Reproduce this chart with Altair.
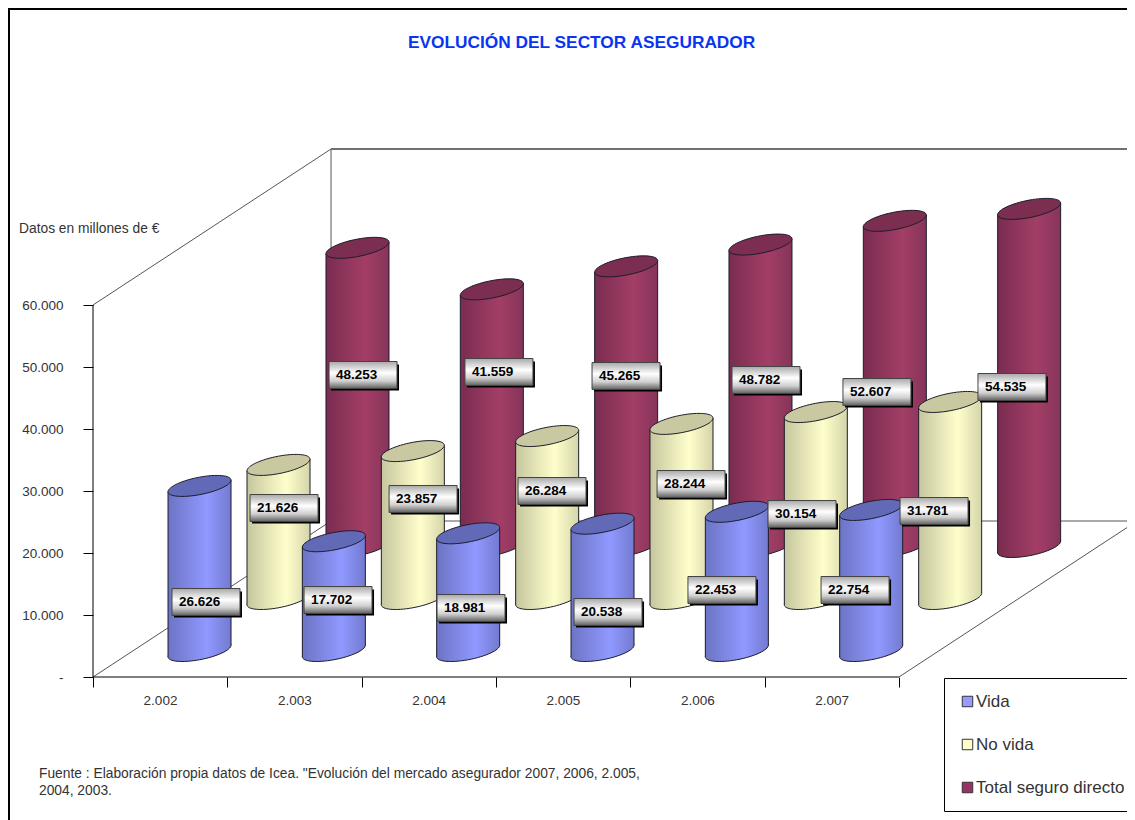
import altair as alt
import pandas as pd

years = ["2.002", "2.003", "2.004", "2.005", "2.006", "2.007"]
series = ["Vida", "No vida", "Total seguro directo"]
vida = [26626, 17702, 18981, 20538, 22453, 22754]
no_vida = [21626, 23857, 26284, 28244, 30154, 31781]
total = [48253, 41559, 45265, 48782, 52607, 54535]

# where each data label sits, in chart units (category position, value)
vida_lab_x = [0.588, 1.571, 2.561, 3.581, 4.429, 5.420]
vida_lab_y = [12097, 12419, 11129, 10484, 14032, 14032]
novida_lab_x = [1.169, 2.204, 3.164, 4.199, 5.025, 6.008]
novida_lab_y = [27258, 28710, 30000, 31129, 26290, 26774]
total_lab_x = [1.757, 2.769, 3.715, 4.757, 5.583, 6.588]
total_lab_y = [48710, 49194, 48548, 47903, 45968, 46774]

LEFT, TOP = 93, 8        # page position of the value axis and of the plot's top
W, H = 1127 - LEFT, 677 - TOP
PAD_B = 820 - 677
PX_U = 134.33
PX_V = 0.0062
xs = alt.Scale(domain=[0, W / PX_U], nice=False, zero=False)
ys = alt.Scale(domain=[0, H / PX_V], nice=False, zero=False)
DEPTH_U = 0.588
DEPTH_V = 8387
FIRST_U = 0.793
FRONT_V = 4194
RAD_U = 0.2345
TILT = 0.184
FLAT = 0.278
RAD_PX = 31.5
SIZE = (2 * RAD_PX) ** 2
TILT_V = TILT * RAD_PX / PX_V

y_axis = alt.Axis(
    values=list(range(0, 60001, 10000)), title=None, grid=False, domain=False,
    tickSize=10, tickColor="#000000", tickWidth=1, labelPadding=20, labelFontSize=13.5,
    labelFont="Liberation Sans", labelColor="#333333",
    labelExpr="datum.value === 0 ? '-\u00a0\u00a0\u00a0' : replace(format(datum.value, ','), ',', '.')",
)
year_list = ",".join(f"'{y}'" for y in years)
x_axis = alt.Axis(
    values=list(range(0, 7)), title=None, grid=False, domain=False,
    tickSize=10, tickColor="#000000", tickWidth=1, labelPadding=6, labelFontSize=13.5,
    labelFont="Liberation Sans", labelColor="#333333", labelOffset=67, labelBound=False,
    labelFlush=False, labelOverlap=False, labelAngle=0,
    labelExpr=f"[{year_list}][datum.value] || ''",
)


def X(f="x", **k):
    return alt.X(f"{f}:Q", scale=xs, axis=x_axis, **k)


def Y(f="y", **k):
    return alt.Y(f"{f}:Q", scale=ys, axis=y_axis, **k)


K = 0.5523
ctrl = [(1, 0), (1, K), (K, 1), (0, 1), (-K, 1), (-1, K), (-1, 0), (-1, -K), (-K, -1), (0, -1), (K, -1), (1, -K), (1, 0)]
pts = [(u, -TILT * u + FLAT * v) for u, v in ctrl]
ELLIPSE = f"M{pts[0][0]:.4f},{pts[0][1]:.4f} " + " ".join(
    f"C{pts[i][0]:.4f},{pts[i][1]:.4f} {pts[i+1][0]:.4f},{pts[i+1][1]:.4f} {pts[i+2][0]:.4f},{pts[i+2][1]:.4f}"
    for i in range(1, 12, 3)
) + " Z"


def hgrad(c0, c1, c2):
    return {
        "gradient": "linear", "x1": 0, "x2": 1, "y1": 0, "y2": 0,
        "stops": [{"offset": 0, "color": c0}, {"offset": 0.62, "color": c1}, {"offset": 1, "color": c2}],
    }


LAB_GRAD = {
    "gradient": "linear", "x1": 0, "x2": 0, "y1": 0, "y2": 1,
    "stops": [{"offset": 0, "color": "#a8a8a8"}, {"offset": 0.42, "color": "#ffffff"},
              {"offset": 0.72, "color": "#d0d0d0"}, {"offset": 1, "color": "#606060"}],
}
EDGE = "#1c1c2a"


def cylinder_layers(values, depth, grad, top):
    rows, area = [], []
    for i, v in enumerate(values):
        cx = i + FIRST_U + depth * DEPTH_U
        base = FRONT_V + depth * DEPTH_V
        rows.append(dict(cx=cx, base=base, top=base + v, left=cx - RAD_U, right=cx + RAD_U,
                         lb=base - TILT_V, lt=base + v - TILT_V,
                         rb=base + TILT_V, rt=base + v + TILT_V))
        area.append(dict(id=i, x=cx - RAD_U, y=base + v - TILT_V, y2=base - TILT_V))
        area.append(dict(id=i, x=cx + RAD_U, y=base + v + TILT_V, y2=base + TILT_V))
    df = pd.DataFrame(rows)
    ad = pd.DataFrame(area)
    bottom = alt.Chart(df).mark_point(shape=ELLIPSE, size=SIZE, filled=True, fill=grad, stroke=EDGE,
                                      strokeWidth=1, opacity=1).encode(x=X("cx"), y=Y("base"))
    body = alt.Chart(ad).mark_area(fill=grad, orient="vertical", opacity=1).encode(
        x=X("x"), y=Y("y", stack=None), y2="y2:Q", detail="id:N")
    lside = alt.Chart(df).mark_rule(color=EDGE, strokeWidth=1).encode(x=X("left"), y=Y("lt"), y2="lb:Q")
    rside = alt.Chart(df).mark_rule(color=EDGE, strokeWidth=1).encode(x=X("right"), y=Y("rt"), y2="rb:Q")
    cap = alt.Chart(df).mark_point(shape=ELLIPSE, size=SIZE, filled=True, fill=top, stroke=EDGE,
                                   strokeWidth=1, opacity=1).encode(x=X("cx"), y=Y("top"))
    return [bottom, body, lside, rside, cap]


def label_layers():
    rows = []
    for vals, lx, ly in [(total, total_lab_x, total_lab_y), (no_vida, novida_lab_x, novida_lab_y),
                         (vida, vida_lab_x, vida_lab_y)]:
        for v, x, y in zip(vals, lx, ly):
            rows.append(dict(
                x=x, x2=x + 68 / PX_U, y=y + 13.5 / PX_V, y2=y - 13.5 / PX_V, cy=y,
                sx=x + 2 / PX_U, sx2=x + 70 / PX_U, sy=y + 10.5 / PX_V, sy2=y - 15.5 / PX_V,
                t=f"{v:,}".replace(",", "."),
            ))
    df = pd.DataFrame(rows)
    shadow = alt.Chart(df).mark_rect(color="#000000").encode(x=X("sx"), x2="sx2:Q", y=Y("sy"), y2="sy2:Q")
    box = alt.Chart(df).mark_rect(fill=LAB_GRAD, stroke="#444444", strokeWidth=1).encode(
        x=X("x"), x2="x2:Q", y=Y("y"), y2="y2:Q")
    text = alt.Chart(df).mark_text(align="left", baseline="middle", dx=7, font="Liberation Sans",
                                   fontWeight="bold", fontSize=13.5, color="#000000").encode(
        x=X("x"), y=Y("cy"), text="t:N")
    return [shadow, box, text]


Du, Dv = 3 * DEPTH_U + 0.008, 3 * DEPTH_V
segs = pd.DataFrame([
    dict(x=0, x2=Du, y=60000, y2=60000 + Dv),
    dict(x=Du, x2=Du, y=Dv, y2=60000 + Dv),
    dict(x=Du, x2=Du + 6, y=Dv, y2=Dv),
    dict(x=0, x2=Du, y=0, y2=Dv),
    dict(x=6, x2=6 + Du, y=0, y2=Dv),
])
wall_top = pd.DataFrame([dict(x=Du, x2=Du + 6, y=60000 + Dv, y2=60000 + Dv)])
front = pd.DataFrame([dict(x=0, x2=6, y=0, y2=0), dict(x=0, x2=0, y=0, y2=60000)])

walls = alt.Chart(segs).mark_rule(color="#555555", strokeWidth=1).encode(
    x=X("x"), x2="x2:Q", y=Y("y"), y2="y2:Q")
walltop = alt.Chart(wall_top).mark_rule(color="#707070", strokeWidth=2).encode(
    x=X("x"), x2="x2:Q", y=Y("y"), y2="y2:Q")
frontlines = alt.Chart(front).mark_rule(color="#000000", strokeWidth=1).encode(
    x=X("x"), x2="x2:Q", y=Y("y"), y2="y2:Q")

one = pd.DataFrame([{"a": 1}])
frame_l = alt.Chart(one).mark_rule(color="#000000", strokeWidth=2).encode(
    x=alt.value(9 - LEFT), y=alt.value(0), y2=alt.value(H + PAD_B))
frame_t = alt.Chart(one).mark_rule(color="#000000", strokeWidth=2).encode(
    y=alt.value(1), x=alt.value(9 - LEFT), x2=alt.value(W))


def note(text, px, py, size):
    return alt.Chart(pd.DataFrame([{"t": text}])).mark_text(
        align="left", baseline="middle", font="Liberation Sans", fontSize=size, color="#333333"
    ).encode(x=alt.value(px - LEFT), y=alt.value(py - TOP), text="t:N")


legend_df = pd.DataFrame({"serie": series, "cx": [0, 0, 0], "v": [0, 0, 0]})
legend = alt.Chart(legend_df).mark_point(size=0, filled=True, opacity=1).encode(
    x=X("cx"), y=Y("v"),
    color=alt.Color("serie:N", scale=alt.Scale(domain=series, range=["#9999FF", "#FFFFCC", "#993366"]),
                    legend=alt.Legend(
                        title=None, orient="none", legendX=944 - LEFT, legendY=678 - TOP, fillColor="#ffffff",
                        strokeColor="#000000", padding=15, rowPadding=25, symbolType="square",
                        symbolSize=110, symbolStrokeColor="#333333", symbolStrokeWidth=1,
                        labelFont="Liberation Sans", labelFontSize=17, labelColor="#333333", labelOffset=0,
                        labelLimit=300,
                    )),
)

layers = [walls, walltop, frontlines]
layers += cylinder_layers(total, 2, hgrad("#7a2c50", "#a33e66", "#86345a"), "#7c2e50")
layers += cylinder_layers(no_vida, 1, hgrad("#c6c69e", "#ffffcc", "#d4d4aa"), "#c9c8a0")
layers += cylinder_layers(vida, 0, hgrad("#6c74c4", "#9099ff", "#737ad0"), "#626ab8")
layers += label_layers()
layers += [legend, frame_l, frame_t]
layers += [
    note("Datos en millones de €", 19, 229, 13.8),
    note("Fuente : Elaboración propia datos de Icea. \"Evolución del mercado asegurador 2007, 2006, 2.005,", 39, 774, 13.8),
    note("2004, 2003.", 39, 791, 13.8),
]

chart = alt.layer(*layers).properties(
    width=W, height=H, padding={"left": LEFT - 8, "top": 0, "right": 0, "bottom": PAD_B},
    background="#ffffff",
    autosize=alt.AutoSizeParams(type="none"),
    title=alt.TitleParams(
        text="EVOLUCIÓN DEL SECTOR ASEGURADOR", anchor="start", frame="group", dx=408 - LEFT, dy=53,
        font="Liberation Sans", fontSize=17.3, fontWeight="bold", color="#0A35F0", offset=0, baseline="middle",
    ),
).resolve_scale(color="independent").configure_view(stroke=None)

chart.save("out.html", embed_options={"renderer": "svg", "actions": False})
